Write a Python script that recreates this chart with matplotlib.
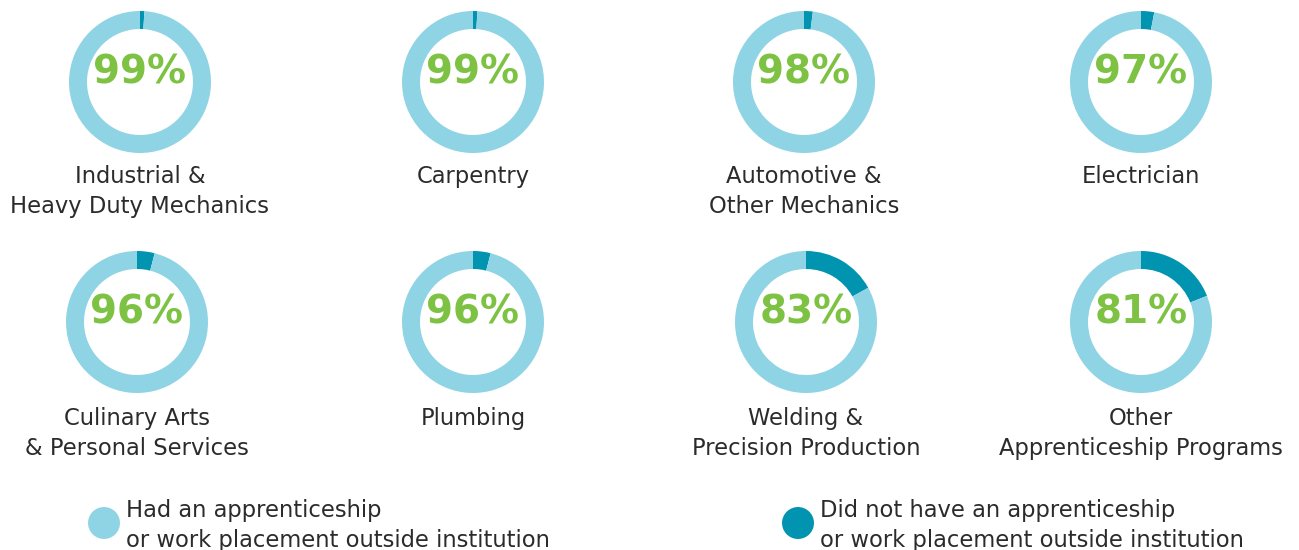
import matplotlib.pyplot as plt

# data
programs = ['Industrial &\nHeavy Duty Mechanics', 'Carpentry', 'Automotive &\nOther Mechanics',
            'Electrician', 'Culinary Arts\n& Personal Services', 'Plumbing',
            'Welding &\nPrecision Production', 'Other\nApprenticeship Programs']
had_pct = [99, 99, 98, 97, 96, 96, 83, 81]
legend_labels = ['Had an apprenticeship\nor work placement outside institution',
                 'Did not have an apprenticeship\nor work placement outside institution']

LIGHT = '#8fd4e4'
DARK = '#0094b1'
GREEN = '#7dc242'
TEXT = '#2b2b2b'
FONT = 'DejaVu Sans'

W, H = 1299, 550
fig = plt.figure(figsize=(W / 100, H / 100), dpi=100)
ax = fig.add_axes([0, 0, 1, 1])

# layout in pixel coords (y measured from top)
col_x = [[140, 473, 804, 1141], [137, 473, 806, 1141]]
row_y = [82, 322]
base_y = [183, 425]
line_gap = 30
r_out = 71
ring = 18

for i, (name, pct) in enumerate(zip(programs, had_pct)):
    row = i // 4
    cx = col_x[row][i % 4]
    cy = H - row_y[row]
    ax.pie([100 - pct, pct], colors=[DARK, LIGHT], center=(cx, cy), radius=r_out,
           startangle=90, counterclock=False,
           wedgeprops=dict(width=ring, linewidth=0))
    ax.text(cx, cy + 9, f'{pct}%', ha='center', va='center', fontsize=28,
            fontweight='bold', color=GREEN, family=FONT)
    for k, line in enumerate(name.split('\n')):
        ax.text(cx, H - (base_y[row] + k * line_gap), line, ha='center', va='baseline',
                fontsize=16.3, color=TEXT, family=FONT)

# legend
leg_x = [104, 798]
for lx, lab, c in zip(leg_x, legend_labels, [LIGHT, DARK]):
    ax.scatter([lx], [H - 523], s=530, color=c, edgecolor='none')
    for k, line in enumerate(lab.split('\n')):
        ax.text(lx + 22, H - (517 + k * line_gap), line, ha='left', va='baseline',
                fontsize=16.3, color=TEXT, family=FONT)

ax.set_xlim(0, W)
ax.set_ylim(0, H)
ax.set_aspect('equal')
ax.axis('off')

fig.savefig('out.png', dpi=100, facecolor='white')
